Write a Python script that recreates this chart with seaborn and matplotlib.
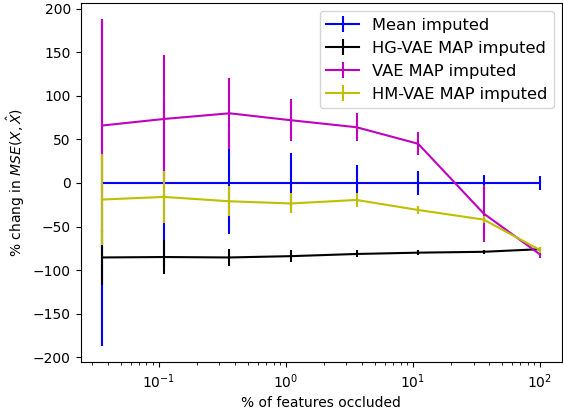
import numpy as np
import matplotlib
matplotlib.use("Agg")
import matplotlib.pyplot as plt
import seaborn as sb
from matplotlib.container import ErrorbarContainer

# % of features occluded
occluded = [0.036, 0.11, 0.36, 1.1, 3.6, 11, 36, 100]

# mean / std of % change in MSE
mean_imp = [0, 0, 0, 0, 0, 0, 0, 0]
mean_err = [187, 95, 58, 34, 21, 14, 9, 8]

hgvae_imp = [-85.5, -85, -85.5, -84, -81.5, -80, -79, -76]
hgvae_err = [32, 19, 10, 6.5, 4, 3, 2, 2]

vae_imp = [66, 73.5, 80, 72, 64, 45, -35, -82]
vae_err = [122, 73, 41, 24, 16, 13, 33, 4]

hmvae_imp = [-19, -16, -21, -23.5, -19.5, -31, -42, -77]
hmvae_err = [52, 30, 17, 11.5, 8, 5, 4, 3]

series = [
    ("Mean imputed", mean_imp, mean_err, "b"),
    ("HG-VAE MAP imputed", hgvae_imp, hgvae_err, "k"),
    ("VAE MAP imputed", vae_imp, vae_err, "m"),
    ("HM-VAE MAP imputed", hmvae_imp, hmvae_err, "y"),
]

fig = plt.figure(figsize=(5.63, 4.13), dpi=100)
ax = fig.add_axes([0.143, 0.123, 0.855, 0.870])
ax.set_xscale("log")

handles = []
for name, y, err, col in series:
    sb.lineplot(x=occluded, y=y, color=col, linewidth=1.5, ax=ax, legend=False)
    line = ax.get_lines()[-1]
    eb = ax.errorbar(occluded, y, yerr=err, fmt="none", ecolor=col, elinewidth=1.5)
    handles.append(ErrorbarContainer((line, (), eb.lines[2]), has_xerr=False,
                                     has_yerr=True, label=name))

ax.legend(handles=handles, labels=[s[0] for s in series], loc="upper right",
          fontsize=11.7)

# Set labels
ax.set_xlabel("% of features occluded")
ax.set_ylabel(r"% chang in $MSE(X,\hat{X})$")

fig.savefig("out.png", dpi=100)
